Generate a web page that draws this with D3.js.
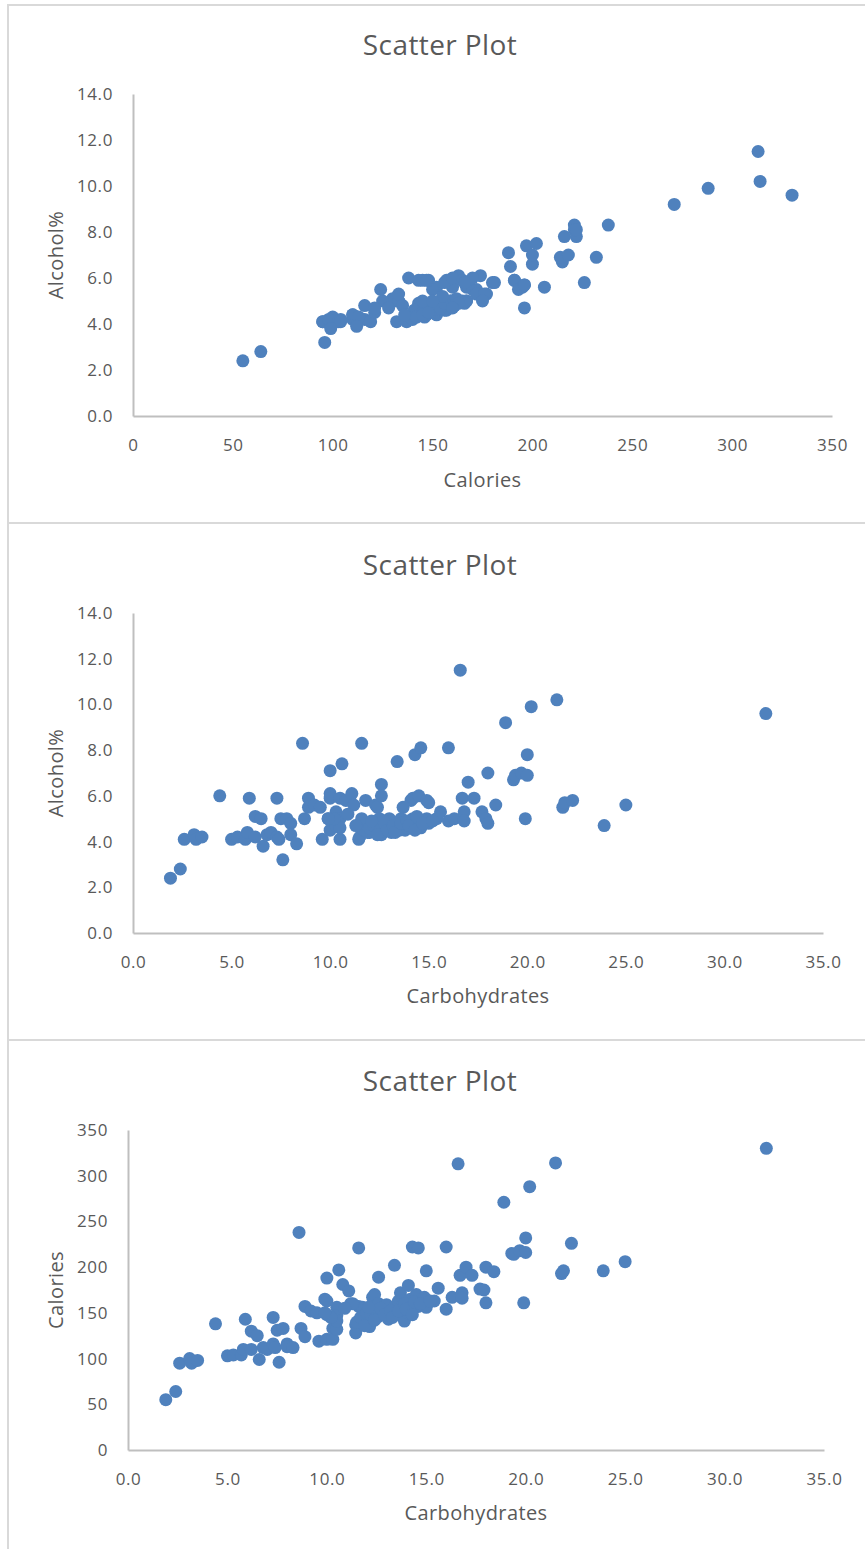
<!DOCTYPE html>
<html>
<head>
<meta charset="utf-8">
<script src="https://cdn.jsdelivr.net/npm/d3@7"></script>
<style>
  body { margin: 0; background: #fff; }
  text { font-family: "Open Sans", "Noto Sans", sans-serif; fill: #595959; }
  .axis .domain { stroke: #bfbfbf; stroke-width: 2px; }
  .axis text { font-size: 17px; letter-spacing: 0.6px; fill: #595959; }
</style>
</head>
<body>
<svg id="chart" width="865" height="1549"></svg>
<script>
// beer data, one entry per beer
let carbs = [1.9, 2.4, 2.6, 3.1, 3.2, 3.5, 4.4, 5.0, 5.3, 5.7, 5.8, 5.9, 6.2, 6.2, 6.5, 6.6, 6.8, 7.0, 7.3, 7.3,
  7.4, 7.5, 7.6, 7.8, 8.0, 8.0, 8.3, 8.6, 8.7, 8.9, 8.9, 9.2, 9.5, 9.6, 9.9, 10.0, 10.0, 10.0, 10.0, 10.3,
  10.3, 10.5, 10.5, 10.6, 10.5, 10.8, 11.1, 11.2, 10.5, 11.45, 11.45, 11.6, 11.6, 11.8, 12.0, 12.15, 12.3, 12.4, 12.5, 12.6,
  12.5, 12.6, 12.6, 12.85, 13.0, 13.1, 13.1, 13.4, 13.4, 13.5, 13.6, 13.7, 13.8, 13.8, 13.9, 14.1, 14.1, 14.2, 14.2, 14.3,
  14.5, 14.6, 14.6, 14.9, 14.9, 15.0, 15.0, 15.4, 15.6, 16.0, 16.0, 16.3, 16.6, 16.7, 16.8, 16.8, 17.0, 17.3, 17.7, 17.9,
  18.0, 18.0, 18.4, 18.9, 19.3, 19.4, 19.7, 19.9, 20.0, 20.0, 20.2, 21.5, 21.8, 21.9, 22.3, 23.9, 25.0, 32.1,
  11.5, 11.7, 11.9, 12.0, 12.2, 12.4, 12.7, 12.9, 13.2, 13.3, 13.6, 13.9, 14.0, 14.3, 14.4, 14.7, 15.2, 12.1, 11.3, 10.9,
  10.2, 9.9]
let calories = [55, 64, 95, 100, 95, 98, 138, 103, 104, 104, 110, 143, 130, 110, 125, 99, 112, 110, 145, 116,
  112, 131, 96, 133, 116, 113, 112, 238, 133, 157, 124, 152, 150, 119, 165, 121, 188, 163, 148, 133,
  121, 156, 132, 197, 147, 181, 174, 160, 141, 137, 128, 157, 221, 156, 145, 135, 167, 170, 152, 146,
  156, 189, 160, 152, 159, 143, 147, 156, 202, 150, 163, 172, 157, 148, 141, 180, 150, 159, 165, 222,
  170, 157, 221, 166, 167, 156, 196, 163, 177, 154, 222, 167, 313, 191, 172, 166, 200, 191, 176, 175,
  161, 200, 195, 271, 215, 214, 218, 161, 216, 232, 288, 314, 193, 196, 226, 196, 206, 330,
  140, 145, 136, 150, 148, 142, 155, 148, 152, 145, 152, 160, 154, 148, 162, 160, 163, 156, 160, 155,
  145, 150]
let alcohol = [2.4, 2.8, 4.1, 4.3, 4.1, 4.2, 6.0, 4.1, 4.2, 4.1, 4.4, 5.9, 5.1, 4.2, 5.0, 3.8, 4.3, 4.4, 5.9, 4.2,
  4.1, 5.0, 3.2, 5.0, 4.8, 4.3, 3.9, 8.3, 5.0, 5.9, 5.5, 5.6, 5.5, 4.1, 5.0, 4.5, 7.1, 6.1, 5.9, 5.3,
  4.7, 5.0, 4.1, 7.4, 5.9, 5.8, 6.1, 5.6, 4.6, 4.1, 4.7, 5.0, 8.3, 5.8, 4.4, 4.8, 5.6, 5.5, 4.4, 4.3,
  5.0, 6.5, 6.0, 4.6, 5.0, 4.9, 4.4, 4.6, 7.5, 4.5, 5.0, 5.5, 4.8, 4.5, 4.6, 5.8, 4.6, 5.0, 5.9, 7.8,
  6.0, 4.6, 8.1, 5.8, 5.0, 4.8, 5.7, 5.0, 5.3, 4.9, 8.1, 5.0, 11.5, 5.9, 5.3, 4.9, 6.6, 5.9, 5.3, 5.0,
  4.8, 7.0, 5.6, 9.2, 6.7, 6.9, 7.0, 5.0, 7.8, 6.9, 9.9, 10.2, 5.5, 5.7, 5.8, 4.7, 5.6, 9.6,
  4.2, 4.5, 4.4, 4.6, 4.7, 4.3, 4.9, 4.5, 4.7, 4.4, 4.8, 4.9, 4.7, 4.5, 5.1, 4.8, 4.9, 4.9, 4.7, 5.2,
  5.0, 5.0]

// tick labels
let calorieTicks = [0, 50, 100, 150, 200, 250, 300, 350]
let carbTicks = [0, 5, 10, 15, 20, 25, 30, 35]
let alcoholTicks = [0, 2, 4, 6, 8, 10, 12, 14]

let beers = carbs.map(function (c, i) {
  return { carbs: c, calories: calories[i], alcohol: alcohol[i] }
})

let svg = d3.select("#chart")

// one entry per panel
let panels = [
  { top: 5, bottom: 523, titleY: 55, xKey: "calories", yKey: "alcohol", xLabel: "Calories", yLabel: "Alcohol%",
    xTicks: calorieTicks, yTicks: alcoholTicks, xFmt: d3.format("d"), yFmt: d3.format(".1f"),
    xDomain: [0, 350], yDomain: [0, 14], xRange: [133, 832], yRange: [416, 94], xLabelY: 487 },
  { top: 523, bottom: 1040, titleY: 575, xKey: "carbs", yKey: "alcohol", xLabel: "Carbohydrates", yLabel: "Alcohol%",
    xTicks: carbTicks, yTicks: alcoholTicks, xFmt: d3.format(".1f"), yFmt: d3.format(".1f"),
    xDomain: [0, 35], yDomain: [0, 14], xRange: [133, 823], yRange: [933, 613], xLabelY: 1003 },
  { top: 1040, bottom: 1560, titleY: 1091, xKey: "carbs", yKey: "calories", xLabel: "Carbohydrates", yLabel: "Calories",
    xTicks: carbTicks, yTicks: calorieTicks, xFmt: d3.format(".1f"), yFmt: d3.format("d"),
    xDomain: [0, 35], yDomain: [0, 350], xRange: [128, 824], yRange: [1450, 1130], xLabelY: 1520 }
]

panels.forEach(function (p) {
  // chart frame
  svg.append("rect")
    .attr("x", 8).attr("y", p.top)
    .attr("width", 880).attr("height", p.bottom - p.top)
    .attr("fill", "none")
    .attr("stroke", "#d9d9d9")
    .attr("stroke-width", 2)

  let xScale = d3.scaleLinear().domain(p.xDomain).range(p.xRange)
  let yScale = d3.scaleLinear().domain(p.yDomain).range(p.yRange)

  svg.append("text")
    .attr("x", 440).attr("y", p.titleY)
    .attr("text-anchor", "middle")
    .style("font-size", "28px")
    .style("letter-spacing", "0.4px")
    .text("Scatter Plot")

  // axes
  svg.append("g")
    .attr("class", "axis")
    .attr("transform", "translate(0," + p.yRange[0] + ")")
    .call(d3.axisBottom(xScale).tickValues(p.xTicks).tickFormat(p.xFmt).tickSize(0).tickPadding(23))

  svg.append("g")
    .attr("class", "axis")
    .attr("transform", "translate(" + p.xRange[0] + ",0)")
    .call(d3.axisLeft(yScale).tickValues(p.yTicks).tickFormat(p.yFmt).tickSize(0).tickPadding(20))

  // axis titles
  svg.append("text")
    .attr("x", (p.xRange[0] + p.xRange[1]) / 2).attr("y", p.xLabelY)
    .attr("text-anchor", "middle")
    .style("font-size", "20px")
    .style("letter-spacing", "0.4px")
    .text(p.xLabel)

  svg.append("text")
    .attr("transform", "translate(63," + (p.yRange[0] + p.yRange[1]) / 2 + ") rotate(-90)")
    .attr("text-anchor", "middle")
    .style("font-size", "20px")
    .style("letter-spacing", "0.4px")
    .text(p.yLabel)

  // points
  svg.append("g").selectAll("circle")
    .data(beers)
    .enter()
    .append("circle")
    .attr("cx", function (d) { return xScale(d[p.xKey]) })
    .attr("cy", function (d) { return yScale(d[p.yKey]) })
    .attr("r", 6.5)
    .style("fill", "#4f81bd")
})
</script>
</body>
</html>
